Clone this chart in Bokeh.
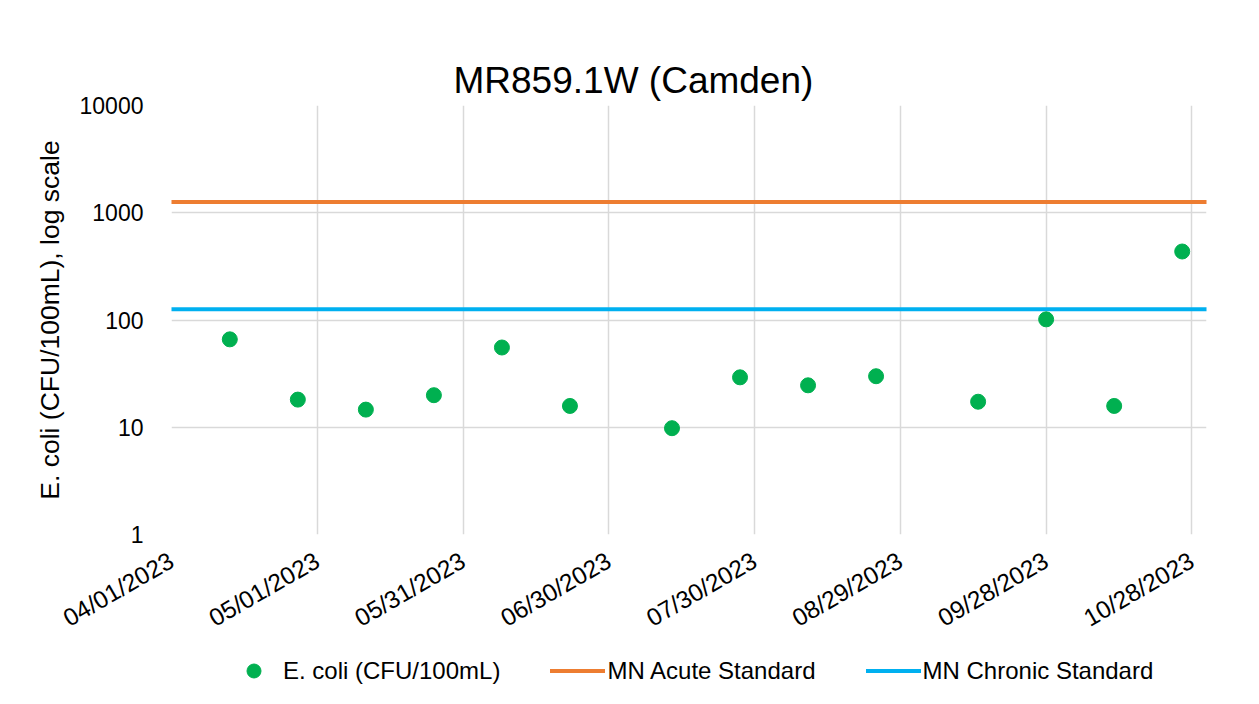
import pandas as pd
from bokeh.plotting import figure
from bokeh.layouts import column
from bokeh.models import (FixedTicker, DatetimeTickFormatter, Legend, LegendItem,
                          Range1d, NumeralTickFormatter)
from bokeh.embed import file_html
from bokeh.resources import INLINE
import math

# ---- data ----
title_text = "MR859.1W (Camden)"
sample_dates = ["2023-04-13", "2023-04-27", "2023-05-11", "2023-05-25", "2023-06-08",
                "2023-06-22", "2023-07-13", "2023-07-27", "2023-08-10", "2023-08-24",
                "2023-09-14", "2023-09-28", "2023-10-12", "2023-10-26"]
ecoli = [66, 18.1, 14.6, 19.9, 55.4, 15.8, 9.8, 29.2, 24.6, 29.9, 17.3, 101.4, 15.8, 435.2]
acute_standard = 1260
chronic_standard = 126
x_start = "2023-04-01"
x_end = "2023-10-31"
x_tick_dates = ["2023-04-01", "2023-05-01", "2023-05-31", "2023-06-30",
                "2023-07-30", "2023-08-29", "2023-09-28", "2023-10-28"]
y_ticks = [1, 10, 100, 1000, 10000]
series_names = ["E. coli (CFU/100mL)", "MN Acute Standard", "MN Chronic Standard"]

FONT = "Liberation Sans"
GRID = "#D9D9D9"
GREEN, ORANGE, BLUE = "#00B050", "#ED7D31", "#00B0F0"

dates = pd.to_datetime(sample_dates)
xs, xe = pd.Timestamp(x_start), pd.Timestamp(x_end)

p = figure(width=1243, height=650, output_backend="svg", toolbar_location=None,
           x_axis_type="datetime", y_axis_type="log",
           x_range=Range1d(xs, xe), y_range=Range1d(y_ticks[0], y_ticks[-1]),
           min_border_left=171, min_border_right=37, min_border_top=105,
           min_border_bottom=116)

p.title.text = title_text
p.title.text_font = FONT
p.title.text_font_size = "37px"
p.title.text_font_style = "normal"
p.title.text_color = "black"
p.title.align = "left"
p.title.offset = 282
p.outline_line_color = None

# standards
acute = p.line([xs, xe], [acute_standard, acute_standard], line_color=ORANGE,
               line_width=4, line_cap="round")
chronic = p.line([xs, xe], [chronic_standard, chronic_standard], line_color=BLUE,
                 line_width=4, line_cap="round")
pts = p.scatter(dates, ecoli, size=15, fill_color=GREEN, line_color=GREEN)

# axes
xticks = [pd.Timestamp(d).value // 10**6 for d in x_tick_dates]
p.xaxis.ticker = FixedTicker(ticks=xticks)
fmt = "%m/%d/%Y"
p.xaxis.formatter = DatetimeTickFormatter(days=fmt, months=fmt, years=fmt, hours=fmt,
                                          hourmin=fmt, minutes=fmt, minsec=fmt,
                                          seconds=fmt, milliseconds=fmt, microseconds=fmt)
p.xaxis.major_label_orientation = math.pi / 6
p.yaxis.ticker = FixedTicker(ticks=y_ticks)
p.yaxis.formatter = NumeralTickFormatter(format="0")
p.yaxis.axis_label = "E. coli (CFU/100mL), log scale"

for ax in (p.xaxis, p.yaxis):
    ax.axis_line_color = None
    ax.major_tick_line_color = None
    ax.minor_tick_line_color = None
    ax.major_label_text_font = FONT
    ax.major_label_text_color = "black"
    ax.axis_label_text_font = FONT
    ax.axis_label_text_font_style = "normal"
    ax.axis_label_text_color = "black"
p.yaxis.major_label_text_font_size = "23px"
p.xaxis.major_label_text_font_size = "24.5px"
p.yaxis.axis_label_text_font_size = "26.5px"
p.yaxis.major_label_standoff = 22
p.yaxis.axis_label_standoff = 12
p.xaxis.major_label_standoff = 18

p.xgrid.ticker = FixedTicker(ticks=xticks)
p.ygrid.ticker = FixedTicker(ticks=y_ticks)
for g in (p.xgrid, p.ygrid):
    g.grid_line_color = GRID
    g.grid_line_width = 1.5

# legend strip below the chart (its frame is aligned with the chart's frame;
# its renderers reuse the data, which lies outside this strip's ranges)
lg = figure(width=1243, height=38, output_backend="svg", toolbar_location=None,
            x_range=Range1d(0, 1), y_range=Range1d(0, 1), min_border=0)
lg.axis.visible = False
lg.grid.visible = False
lg.outline_line_color = None
l_pts = lg.scatter(dates, ecoli, size=15, fill_color=GREEN, line_color=GREEN)
l_acute = lg.line([xs, xe], [acute_standard, acute_standard], line_color=ORANGE,
                  line_width=4, line_cap="round")
l_chronic = lg.line([xs, xe], [chronic_standard, chronic_standard], line_color=BLUE,
                    line_width=4, line_cap="round")

legend = Legend(items=[LegendItem(label=series_names[0], renderers=[l_pts]),
                       LegendItem(label=series_names[1], renderers=[l_acute]),
                       LegendItem(label=series_names[2], renderers=[l_chronic])],
                orientation="horizontal", location=(55, 0),
                glyph_width=55, glyph_height=35, label_standoff=2, spacing=50,
                padding=0, margin=0, border_line_color=None,
                background_fill_alpha=0, label_text_font=FONT,
                label_text_font_size="24px", label_text_color="black",
                label_height=24)
lg.add_layout(legend)

layout = column(p, lg, spacing=0)
open("out.html", "w").write(file_html(layout, INLINE))
